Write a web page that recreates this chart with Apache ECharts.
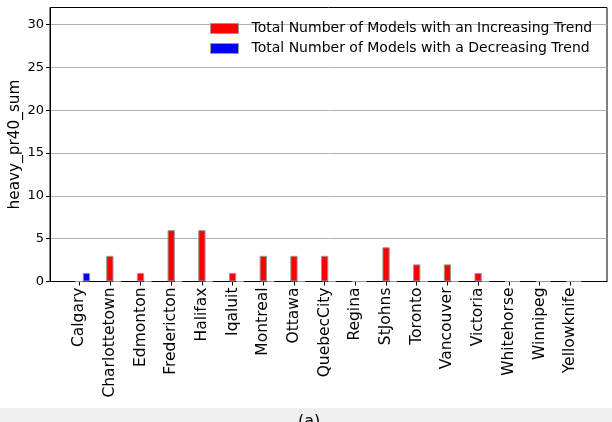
<!DOCTYPE html>
<html>
<head>
<meta charset="utf-8">
<script src="https://cdn.jsdelivr.net/npm/echarts@6/dist/echarts.min.js"></script>
<style>
html,body{margin:0;padding:0;background:#fff;}
#chart{width:612px;height:422px;}
</style>
</head>
<body>
<div id="chart"></div>
<script>
var cities = ['Calgary','Charlottetown','Edmonton','Fredericton','Halifax','Iqaluit','Montreal','Ottawa','QuebecCity','Regina','StJohns','Toronto','Vancouver','Victoria','Whitehorse','Winnipeg','Yellowknife'];
var increasing = [0,3,1,6,6,1,3,3,3,0,4,2,2,1,0,0,0];
var decreasing = [1,0,0,0,0,0,0,0,0,0,0,0,0,0,0,0,0];
var yTicks = [0,5,10,15,20,25,30];
var seriesNames = ['Total Number of Models with an Increasing Trend','Total Number of Models with a Decreasing Trend'];

var idx = cities.map(function(c,i){return i;});
var font = 'DejaVu Sans';
var chart = echarts.init(document.getElementById('chart'), null, {renderer:'canvas'});
chart.setOption({
  animation: false,
  backgroundColor: '#fff',
  textStyle: {fontFamily: font},
  grid: {left: 50, right: 5, top: 7.5, bottom: 140.5, outerBoundsMode: 'none', containLabel: false,
    show: true, borderColor: '#000', borderWidth: 1, backgroundColor: 'transparent'},
  legend: {
    orient: 'vertical', left: 205, top: 16, itemWidth: 28, itemHeight: 10, itemGap: 5,
    icon: 'rect',
    data: seriesNames,
    textStyle: {fontFamily: font, fontSize: 14, color: '#000', padding: [0,0,0,8], lineHeight: 15},
    itemStyle: {borderColor: '#999', borderWidth: 1}
  },
  xAxis: {
    type: 'value', min: -0.95, max: 17.2,
    axisLine: {show: true, onZero: false, lineStyle: {color: '#000', width: 1}},
    axisTick: {show: true, length: 4, lineStyle: {color: '#000'}, customValues: idx},
    axisLabel: {customValues: idx, rotate: 90, margin: 6, fontSize: 15.5, color: '#000', fontFamily: font,
      formatter: function(v){ return cities[Math.round(v)] || ''; }},
    splitLine: {show: false}
  },
  yAxis: {
    type: 'value', min: 0, max: 32,
    name: 'heavy_pr40_sum', nameLocation: 'middle', nameGap: 27, nameRotate: 90, nameMoveOverlap: false,
    nameTextStyle: {fontSize: 15.3, color: '#000', fontFamily: font},
    axisLine: {show: true, onZero: false, lineStyle: {color: '#000', width: 1}},
    axisTick: {show: true, length: 4, lineStyle: {color: '#000'}, customValues: yTicks},
    axisLabel: {customValues: yTicks, margin: 6, fontSize: 13, color: '#000', fontFamily: font},
    splitLine: {show: true, lineStyle: {color: '#b0b0b0', width: 1}}
  },
  series: [
    {type: 'bar', name: '_pad', data: [], barWidth: 7.3, barGap: '0%'},
    {type: 'bar', name: seriesNames[0], data: idx.map(function(i){return [i, increasing[i]];}),
      barWidth: 7.3, barGap: '0%', itemStyle: {color: '#ff0000', borderColor: '#999', borderWidth: 1}},
    {type: 'bar', name: seriesNames[1], data: idx.map(function(i){return [i, decreasing[i]];}),
      barWidth: 7.3, barGap: '0%', itemStyle: {color: '#0000ff', borderColor: '#999', borderWidth: 1}}
  ],
  graphic: [
    {type: 'rect', left: 0, top: 408, shape: {width: 612, height: 14}, style: {fill: '#f0f0f0'}, z: -1},
    {type: 'text', left: 298, top: 414, style: {text: '(a)', font: '16px "DejaVu Sans"', fill: '#000'}}
  ]
});
</script>
</body>
</html>
